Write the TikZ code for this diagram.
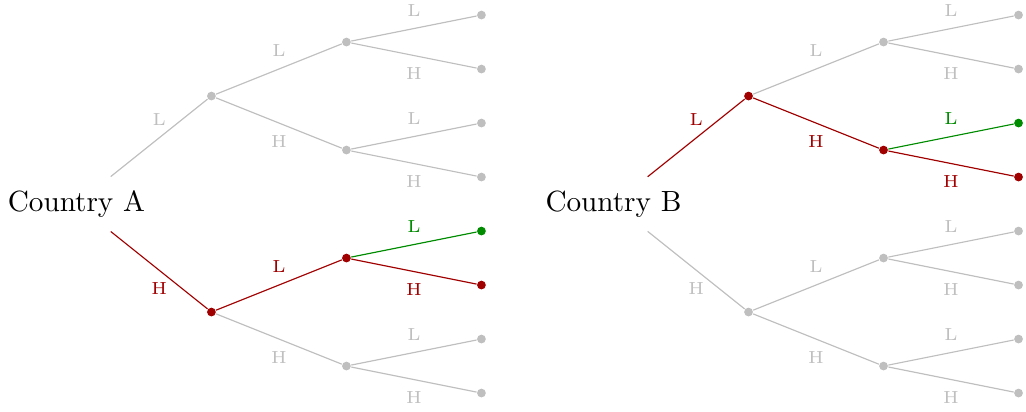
\documentclass[tikz,border=0pt]{standalone}
\usetikzlibrary{positioning}
\tikzset{
    country/.style={inner xsep=3pt, inner ysep=4.6pt, font=\normalsize},
    dot/.style={circle, fill=gray!50, inner sep=0pt, minimum size=3pt},
    reddot/.style={dot, fill=red!63!black},
    greendot/.style={dot, fill=green!55!black},
    faded/.style={gray!50},
    hot/.style={red!63!black},
    good/.style={green!55!black},
    ltag/.style={midway, above, font=\fontsize{6}{7}\selectfont, inner sep=4pt},
    htag/.style={midway, below, font=\fontsize{6}{7}\selectfont, inner sep=4pt}
}

\begin{document}
\begin{tikzpicture}[on grid]
		\useasboundingbox (-0.92,-2.492) rectangle (11.43,2.456);
		
		% --- COUNTRY A ---
		\node[country] (A) at (0,0) {Country A};
		\node[dot, above right=1.3cm and 1.625cm of A] (AL) {};
		\node[reddot, below right=1.3cm and 1.625cm of A] (AH) {};
		\node[dot, above right=0.65cm and 1.625cm of AL] (ALL) {};
		\node[dot, below right=0.65cm and 1.625cm of AL] (ALH) {};
		\node[reddot, above right=0.65cm and 1.625cm of AH] (AHL) {};
		\node[dot, below right=0.65cm and 1.625cm of AH] (AHH) {};
		\node[greendot, above right=0.325cm and 1.625cm of AHL] (AHLL) {};
		\node[reddot, below right=0.325cm and 1.625cm of AHL] (AHLH) {};
		
		\draw[faded] (A) -- node[ltag] {L} (AL);
		\draw[hot] (A) -- node[htag] {H} (AH);
		\draw[faded] (AL) -- node[ltag] {L} (ALL);
		\draw[faded] (AL) -- node[htag] {H} (ALH);
		\draw[hot] (AH) -- node[ltag] {L} (AHL);
		\draw[faded] (AH) -- node[htag] {H} (AHH);
		\draw[good] (AHL) -- node[ltag] {L} (AHLL);
		\draw[hot] (AHL) -- node[htag] {H} (AHLH);
		
		% --- COUNTRY B ---
		\node[country] (B) at (6.465,0) {Country B};
		\node[reddot, above right=1.3cm and 1.625cm of B] (BL) {};
		\node[dot, below right=1.3cm and 1.625cm of B] (BH) {};
		\node[dot, above right=0.65cm and 1.625cm of BL] (BLL) {};
		\node[reddot, below right=0.65cm and 1.625cm of BL] (BLH) {};
		\node[dot, above right=0.65cm and 1.625cm of BH] (BHL) {};
		\node[dot, below right=0.65cm and 1.625cm of BH] (BHH) {};
		\node[greendot, above right=0.325cm and 1.625cm of BLH] (BLHL) {};
		\node[reddot, below right=0.325cm and 1.625cm of BLH] (BLHH) {};
		
		\draw[hot] (B) -- node[ltag] {L} (BL);
		\draw[faded] (B) -- node[htag] {H} (BH);
		\draw[faded] (BL) -- node[ltag] {L} (BLL);
		\draw[hot] (BL) -- node[htag] {H} (BLH);
		\draw[faded] (BH) -- node[ltag] {L} (BHL);
		\draw[faded] (BH) -- node[htag] {H} (BHH);
		\draw[good] (BLH) -- node[ltag] {L} (BLHL);
		\draw[hot] (BLH) -- node[htag] {H} (BLHH);
		
		% --- remaining grey leaves ---
		\foreach \p in {ALL,ALH,AHH,BLL,BHL,BHH} {
			\node[dot, above right=0.325cm and 1.625cm of \p] (\p L) {};
			\node[dot, below right=0.325cm and 1.625cm of \p] (\p H) {};
			\draw[faded] (\p) -- node[ltag] {L} (\p L);
			\draw[faded] (\p) -- node[htag] {H} (\p H);
		}
		
	\end{tikzpicture}
\end{document}
